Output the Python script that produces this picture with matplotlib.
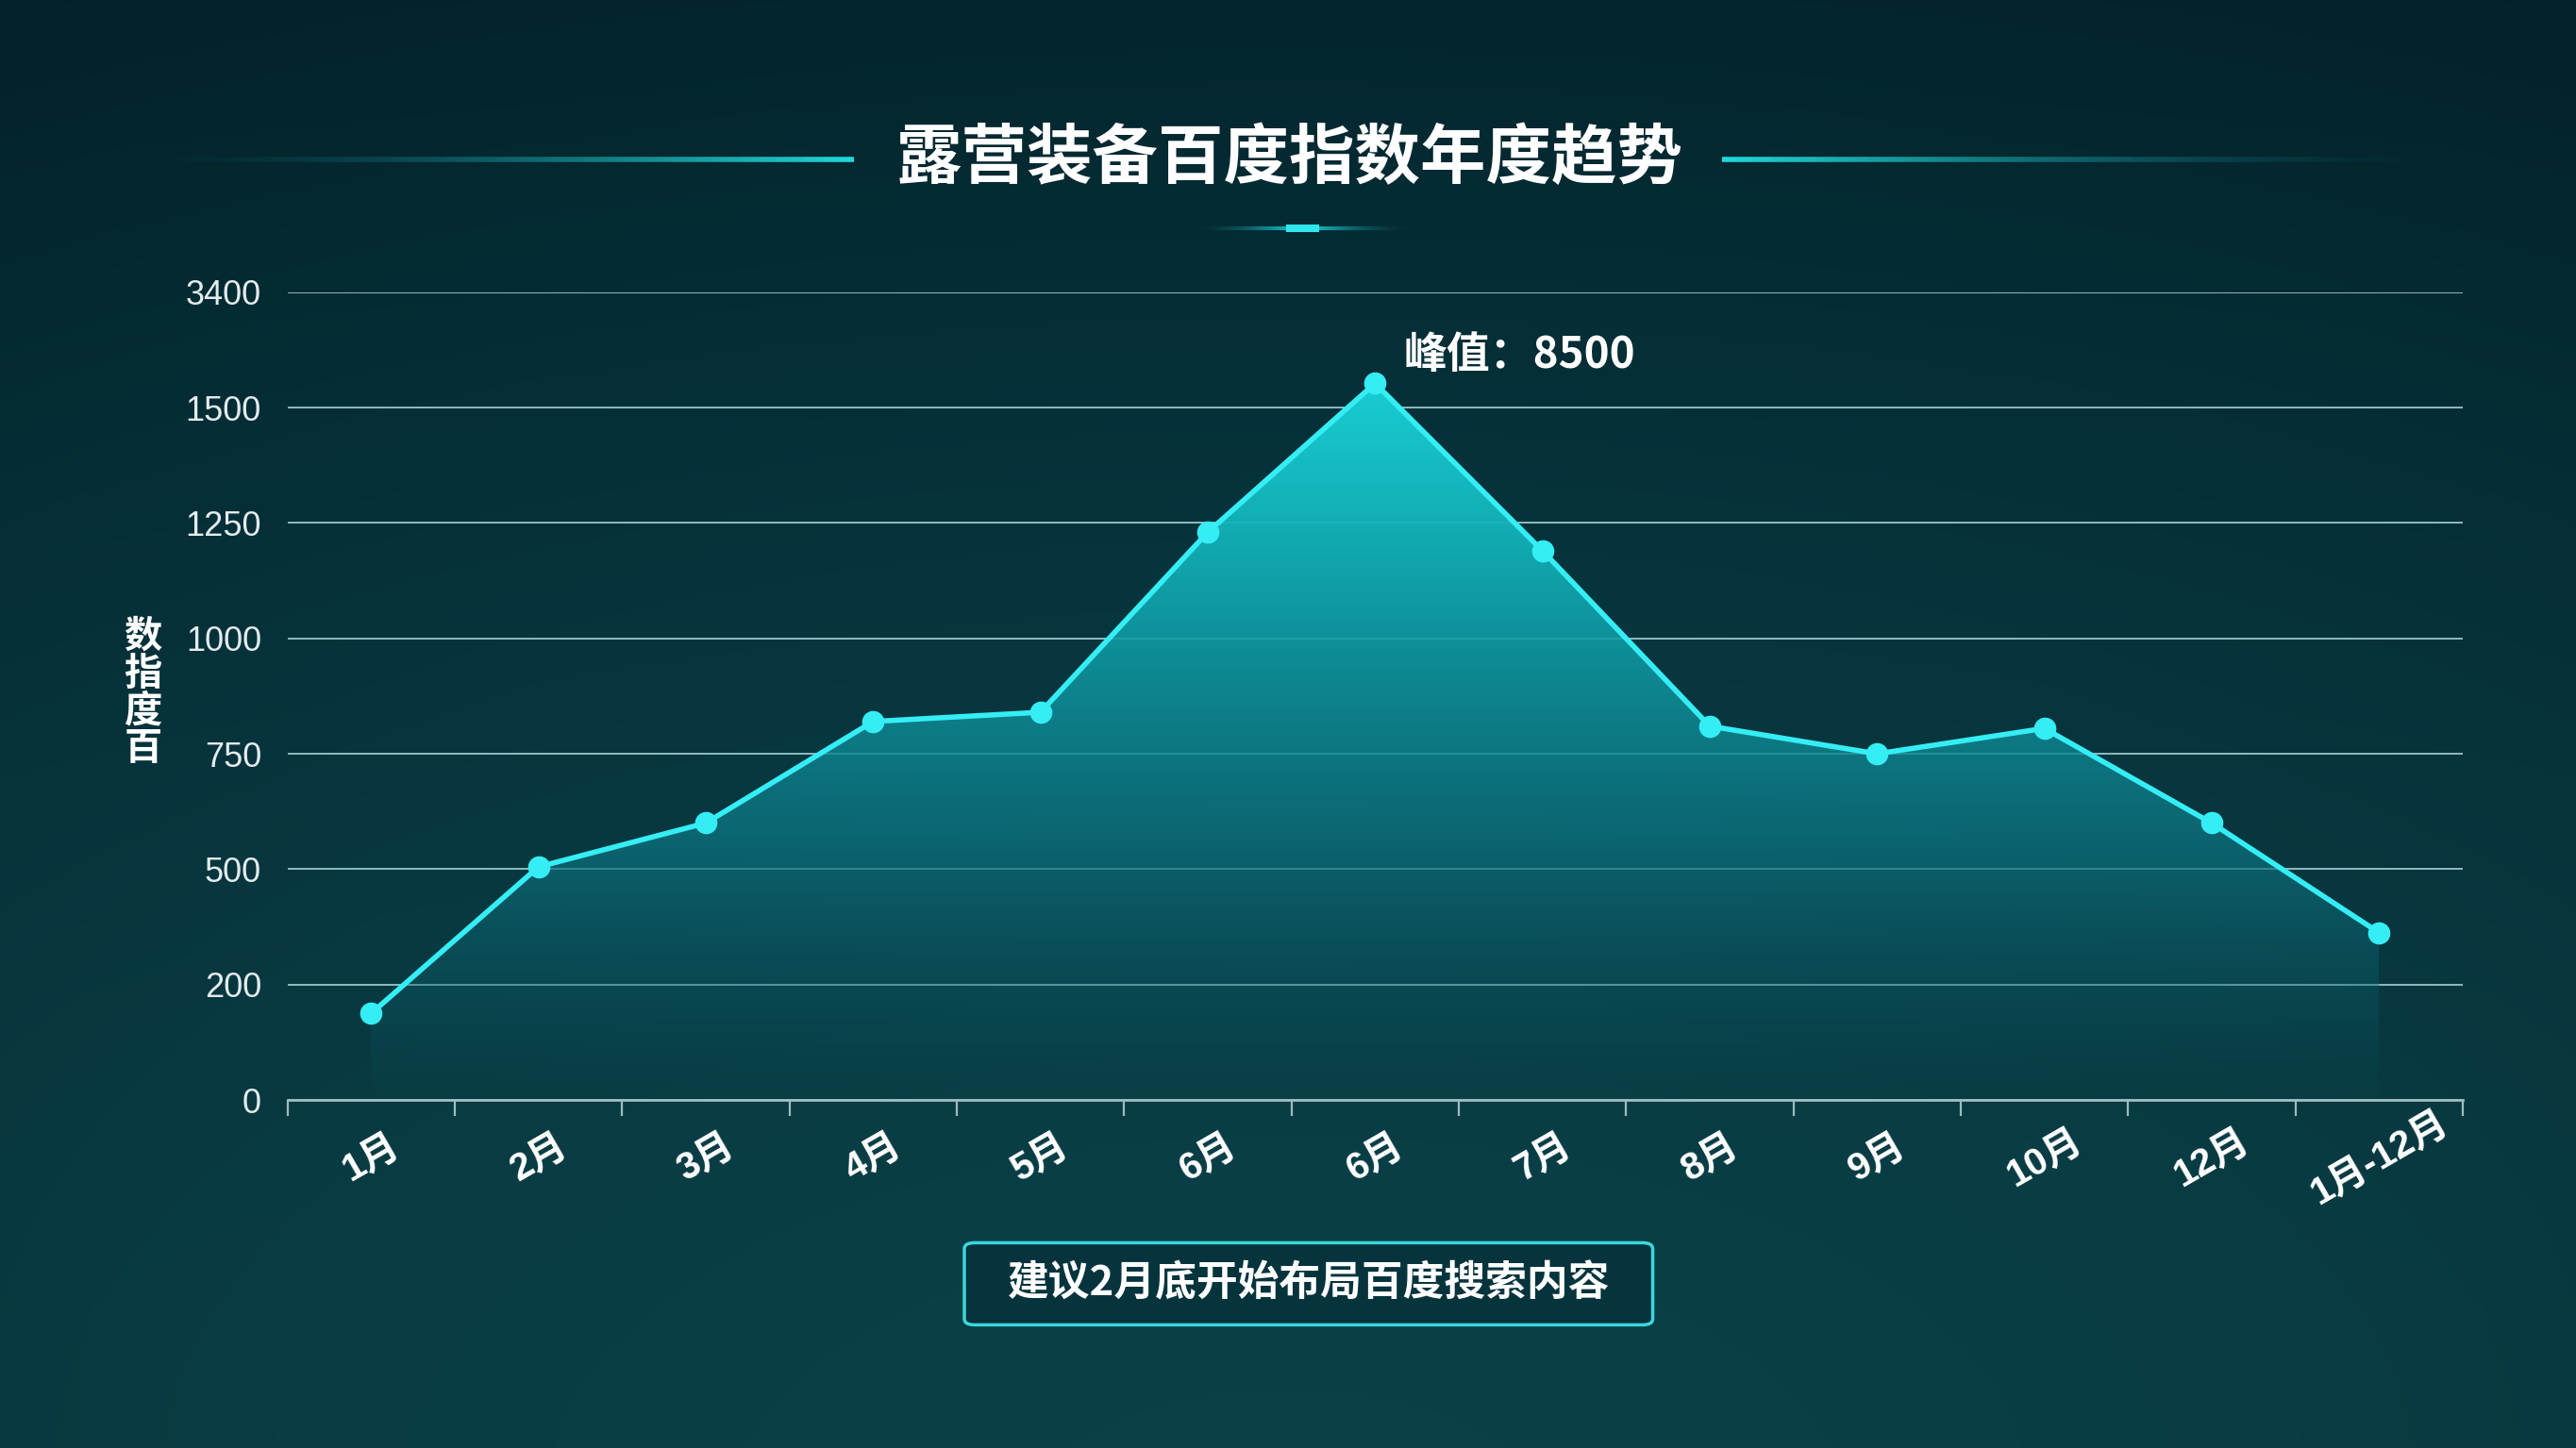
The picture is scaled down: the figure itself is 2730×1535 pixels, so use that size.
import numpy as np
import matplotlib
matplotlib.use("Agg")
import matplotlib.pyplot as plt
from matplotlib.colors import LinearSegmentedColormap, to_rgb
from matplotlib.collections import LineCollection
from matplotlib.patches import FancyBboxPatch, Rectangle

plt.rcParams['font.family'] = ['Liberation Sans', 'Noto Sans CJK SC', 'DejaVu Sans']

# ---------------- data ----------------
categories = ["1月", "2月", "3月", "4月", "5月", "6月", "6月", "7月", "8月", "9月", "10月", "12月", "1月-12月"]
values = [150, 505, 600, 820, 840, 1230, 1900, 1190, 810, 750, 805, 600, 335]
y_ticks = [0, 200, 500, 750, 1000, 1250, 1500, 3400]
y_tick_labels = ["0", "200", "500", "750", "1000", "1250", "1500", "3400"]
title = "露营装备百度指数年度趋势"
y_label = "数\n指\n度\n百"
peak_label = "峰值：8500"
note = "建议2月底开始布局百度搜索内容"

W, H = 2730, 1535
fig = plt.figure(figsize=(W / 100, H / 100), dpi=100)

# ---------------- background ----------------
bg = fig.add_axes([0, 0, 1, 1])
bg.set_xlim(0, 1)
bg.set_ylim(0, 1)
bg.axis('off')
yy, xx = np.mgrid[0:1:400j, 0:1:700j]
top = np.array(to_rgb("#042a33"))
bot = np.array(to_rgb("#0b454d"))
grad = top[None, None, :] * (1 - yy[..., None]) + bot[None, None, :] * yy[..., None]
r = np.sqrt(((xx - 0.5) / 0.75) ** 2 + ((yy - 0.55) / 0.8) ** 2)
vig = 1 - 0.22 * np.clip(r, 0, 1) ** 2
img = np.clip(grad * vig[..., None], 0, 1)
bg.imshow(img, extent=[0, 1, 0, 1], origin='upper', aspect='auto', zorder=0)

def grad_line(x0, x1, y, bright_at_x1, lw):
    n = 120
    xs = np.linspace(x0, x1, n + 1)
    segs = [[(xs[i], y), (xs[i + 1], y)] for i in range(n)]
    t = np.linspace(0, 1, n)
    if not bright_at_x1:
        t = t[::-1]
    alphas = t ** 1.8
    cols = [(0.13, 0.85, 0.86, a) for a in alphas]
    bg.add_collection(LineCollection(segs, colors=cols, linewidths=lw, zorder=2))

ty = 1 - 97 / 882
grad_line(60 / 1568, 520 / 1568, ty, True, 4)
grad_line(1048 / 1568, 1510 / 1568, ty, False, 4)
grad_line(725 / 1568, 793 / 1568, 1 - 139 / 882, True, 3)
grad_line(793 / 1568, 860 / 1568, 1 - 139 / 882, False, 3)
bg.add_patch(Rectangle((783 / 1568, 1 - 141.5 / 882), 20 / 1568, 5 / 882,
                       color="#2fe6ec", zorder=3, lw=0))

fig.text(785 / 1568, ty, title, ha='center', va='center', fontsize=50,
         fontweight='bold', color='white',
         family=['Noto Sans CJK SC', 'DejaVu Sans'])

# ---------------- main axes ----------------
ax = fig.add_axes([175 / 1568, 1 - 670 / 882, (1499 - 175) / 1568, (670 - 178) / 882])
ax.patch.set_alpha(0)

pos = np.arange(len(y_ticks), dtype=float)
tv = np.array(y_ticks, dtype=float)
ax.set_yscale('function', functions=(lambda v: np.interp(v, tv, pos),
                                      lambda p: np.interp(p, pos, tv)))
ax.set_ylim(0, 3400)
x = np.arange(len(categories))
ax.set_xlim(-0.5, len(categories) - 0.5)

ax.set_yticks(y_ticks)
ax.set_yticklabels(y_tick_labels)
ax.tick_params(axis='y', length=0, pad=20, labelsize=26, labelcolor='#e3ecee')
ax.grid(axis='y', color=(0.6, 0.78, 0.8, 0.2), lw=1.3)
ax.set_axisbelow(True)

ax.set_xticks(np.arange(len(categories) + 1) - 0.5)
ax.set_xticklabels([])
ax.set_xticks(x, minor=True)
ax.set_xticklabels(categories, minor=True)
ax.tick_params(axis='x', which='major', length=12, width=1.6, color='#9fbcc0', direction='out')
ax.tick_params(axis='x', which='minor', length=0, pad=44, labelsize=29, labelcolor='white')
for lab in ax.get_xticklabels(minor=True):
    lab.set_rotation(30)
    lab.set_ha('center')
    lab.set_va('center')
    lab.set_rotation_mode('anchor')
    lab.set_fontweight('bold')

for s in ['top', 'right', 'left']:
    ax.spines[s].set_visible(False)
ax.spines['bottom'].set_color('#9fbcc0')
ax.spines['bottom'].set_linewidth(2)

poly = ax.fill_between(x, 0, values, color='none', lw=0, zorder=1)
cmap = LinearSegmentedColormap.from_list('f', [
    (0.0, (0.04, 0.30, 0.34, 0.12)),
    (0.35, (0.05, 0.45, 0.50, 0.75)),
    (0.75, (0.07, 0.68, 0.71, 0.95)),
    (1.0, (0.10, 0.82, 0.84, 1.0)),
])
gy = np.linspace(0, 1, 300)[:, None] * np.ones((1, 10))
im = ax.imshow(gy, extent=[0, 1, 0, 0.9], origin='lower', aspect='auto',
               cmap=cmap, transform=ax.transAxes, zorder=1, interpolation='bilinear')
im.set_clip_path(poly.get_paths()[0], transform=ax.transData)

ax.plot(x, values, color='#35eef5', lw=4, marker='o', markersize=16,
        markerfacecolor='#35eef5', markeredgecolor='#35eef5', zorder=4)

peak_i = int(np.argmax(values))
ax.annotate(peak_label, xy=(x[peak_i], values[peak_i]), xytext=(22, 21),
            textcoords='offset points', ha='left', va='center', fontsize=33,
            fontweight='bold', color='white',
            family=['Noto Sans CJK SC', 'DejaVu Sans'])

ax.text(87 / 1568, 0.5215, y_label, transform=fig.transFigure, ha='center', va='center',
        fontsize=29, fontweight='bold', color='white', linespacing=0.95,
        family=['Noto Sans CJK SC', 'DejaVu Sans'])

# ---------------- note box ----------------
bx0, bx1 = 587 / 1568, 1006 / 1568
by0, by1 = 1 - 807 / 882, 1 - 757 / 882
box = FancyBboxPatch((bx0, by0), bx1 - bx0, by1 - by0,
                     boxstyle="round,pad=0,rounding_size=0.004",
                     transform=fig.transFigure, facecolor=(0.02, 0.17, 0.21, 0.55),
                     edgecolor='#3ad8da', lw=2.5, zorder=5)
fig.patches.append(box)
fig.text((bx0 + bx1) / 2, (by0 + by1) / 2, note, ha='center', va='center',
         fontsize=31.5, fontweight='bold', color='white', zorder=6,
         family=['Noto Sans CJK SC', 'DejaVu Sans'])

fig.savefig('out.png', dpi=100)
